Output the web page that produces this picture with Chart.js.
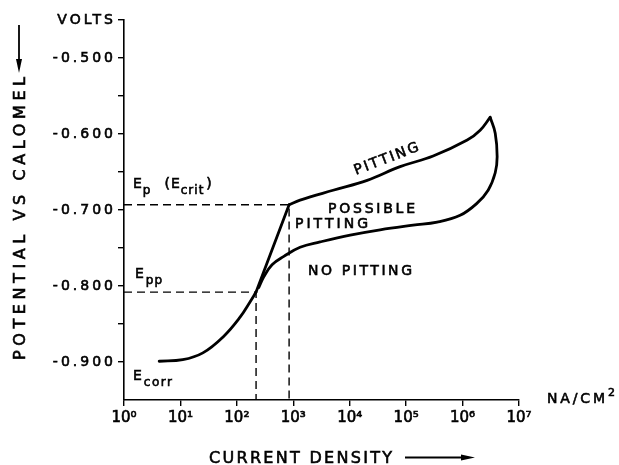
<!DOCTYPE html>
<html><head><meta charset="utf-8">
<script src="https://cdn.jsdelivr.net/npm/chart.js@4/dist/chart.umd.min.js"></script>
<style>html,body{margin:0;padding:0;background:#fff}#wrap{width:619px;height:465px}</style>
</head><body><div id="wrap"><canvas id="c" width="619" height="465"></canvas></div>
<script>
// ---- data (current density in nA/cm2, potential in volts vs calomel) ----
const forwardI = [4.2, 11, 25, 57, 114, 171, 219];
const forwardV = [-0.899, -0.897, -0.888, -0.867, -0.841, -0.821, -0.808];
const riseI = [219, 843];
const riseV = [-0.808, -0.693];
const pittingI = [843, 1320, 5080, 20400, 78300, 301000, 1210000, 2050000, 3080000];
const pittingV = [-0.693, -0.687, -0.674, -0.661, -0.643, -0.629, -0.608, -0.595, -0.578];
const reverseI = [3080000, 3790000, 4100000, 3790000, 2840000, 1810000, 906000, 355000, 133000, 34600, 10200, 2990, 1320, 680, 420, 300, 245];
const reverseV = [-0.578, -0.599, -0.630, -0.651, -0.674, -0.691, -0.707, -0.716, -0.720, -0.726, -0.733, -0.742, -0.749, -0.761, -0.772, -0.788, -0.802];
const epI = 843, epV = -0.693;     // E_p (E_crit)
const eppI = 219, eppV = -0.808;   // E_pp
const xTickValues = [1, 10, 100, 1000, 10000, 100000, 1000000, 10000000];
const xMin = 1, xMax = 10000000, yMin = -0.95, yMax = -0.45;

const pts = (xs, ys) => xs.map((x, i) => ({x, y: ys[i]}));
const SUP = ['\u2070','\u00B9','\u00B2','\u00B3','\u2074','\u2075','\u2076','\u2077'];
const FONT = '"DejaVu Sans", sans-serif';
const STROKE = 0.6;

const lineDs = (data, tension) => ({data, showLine: true, borderColor: '#000', borderWidth: 2.8,
  pointRadius: 0, tension, fill: false, borderCapStyle: 'round', borderJoinStyle: 'round'});
const dashDs = (data) => ({data, showLine: true, borderColor: '#000', borderWidth: 1.4,
  borderDash: [8, 5], pointRadius: 0, tension: 0, fill: false});

function put(ctx, text, x, y) {
  ctx.lineWidth = STROKE; ctx.strokeText(text, x, y); ctx.fillText(text, x, y);
}
function fitText(ctx, text, x, y, width) {
  ctx.letterSpacing = '0px';
  const w = ctx.measureText(text).width;
  const s = text.length > 1 ? (width - w) / (text.length - 1) : 0;
  ctx.letterSpacing = s + 'px';
  put(ctx, text, x, y);
  ctx.letterSpacing = '0px';
}
function subText(ctx, x, y, parts) {
  let cx = x;
  for (const p of parts) {
    ctx.font = (p.sub ? '12px ' : '14px ') + FONT;
    ctx.letterSpacing = (p.sp || 1) + 'px';
    put(ctx, p.t, cx, y + (p.sub ? 6 : 0));
    cx += ctx.measureText(p.t).width + (p.gap || 0);
  }
  ctx.letterSpacing = '0px';
}

const deco = {
  id: 'deco',
  afterLayout(chart) {
    const wrap = (scale, sp) => {
      if (scale._wrapped) return;
      const orig = scale.drawLabels;
      scale.drawLabels = function (area) {
        const c = this.ctx; c.save(); c.letterSpacing = sp; orig.call(this, area); c.restore();
      };
      scale._wrapped = true;
    };
    wrap(chart.scales.x, '0px');
    wrap(chart.scales.y, '3px');
  },
  afterDraw(chart) {
    const ctx = chart.ctx;
    ctx.save();
    ctx.letterSpacing = '0px';
    ctx.fillStyle = '#000'; ctx.strokeStyle = '#000';
    ctx.textBaseline = 'alphabetic'; ctx.textAlign = 'left';

    // y title (rotated) + arrow
    ctx.save();
    ctx.translate(25, 0);
    ctx.rotate(-Math.PI / 2);
    ctx.font = '16px ' + FONT;
    fitText(ctx, 'POTENTIAL VS CALOMEL', -360, 0, 283);
    ctx.restore();
    ctx.lineWidth = 1.8;
    ctx.beginPath(); ctx.moveTo(19, 25); ctx.lineTo(19, 62); ctx.stroke();
    ctx.beginPath(); ctx.moveTo(19, 73); ctx.lineTo(16, 59); ctx.lineTo(22, 59); ctx.closePath(); ctx.fill();

    // x title + arrow
    ctx.font = '16px ' + FONT;
    fitText(ctx, 'CURRENT DENSITY', 209, 463, 183);
    ctx.lineWidth = 1.8;
    ctx.beginPath(); ctx.moveTo(405, 457.5); ctx.lineTo(463, 457.5); ctx.stroke();
    ctx.beginPath(); ctx.moveTo(475, 457.5); ctx.lineTo(461, 454.5); ctx.lineTo(461, 460.5); ctx.closePath(); ctx.fill();

    // units
    ctx.font = '14px ' + FONT;
    fitText(ctx, 'NA/CM', 547, 403, 58);
    ctx.font = '11px ' + FONT;
    put(ctx, '2', 608, 396);

    // region labels
    ctx.font = '14px ' + FONT;
    fitText(ctx, 'POSSIBLE', 328, 213, 87);
    fitText(ctx, 'PITTING', 295, 228, 73);
    fitText(ctx, 'NO PITTING', 308, 275, 104);
    ctx.save();
    ctx.translate(386, 158);
    ctx.rotate(-21 * Math.PI / 180);
    fitText(ctx, 'PITTING', -34, 5, 68);
    ctx.restore();

    // potentials
    subText(ctx, 133, 188, [{t: 'E'}, {t: 'p', sub: true, gap: 13}, {t: '(E'}, {t: 'crit', sub: true, gap: 2}, {t: ')'}]);
    subText(ctx, 135, 278, [{t: 'E', gap: 1}, {t: 'pp', sub: true}]);
    subText(ctx, 133, 380, [{t: 'E', gap: 1}, {t: 'corr', sub: true, sp: 1.5}]);
    ctx.restore();
  }
};

new Chart(document.getElementById('c'), {
  type: 'scatter',
  data: {
    datasets: [
      dashDs([{x: xMin, y: epV}, {x: epI, y: epV}, {x: epI, y: yMin}]),
      dashDs([{x: xMin, y: eppV}, {x: eppI, y: eppV}, {x: eppI, y: yMin}]),
      lineDs(pts(forwardI, forwardV), 0.4),
      lineDs(pts(riseI, riseV), 0),
      lineDs(pts(pittingI, pittingV), 0.4),
      lineDs(pts(reverseI, reverseV), 0.4)
    ]
  },
  options: {
    responsive: false, animation: false, devicePixelRatio: 1,
    layout: {padding: {top: 20, right: 100, left: 0, bottom: 0}},
    plugins: {legend: {display: false}, tooltip: {enabled: false}, title: {display: false}},
    scales: {
      x: {
        type: 'logarithmic', min: xMin, max: xMax,
        afterBuildTicks: s => { s.ticks = xTickValues.map(v => ({value: v})); },
        afterFit: s => { s.height = 65; },
        grid: {display: true, drawOnChartArea: false, drawTicks: true, tickLength: 6, color: '#000', lineWidth: 1.4},
        border: {display: true, color: '#000', width: 1.6},
        ticks: {autoSkip: false, maxRotation: 0, padding: 3, color: '#000', font: {family: 'DejaVu Sans', size: 15},
          textStrokeColor: '#000', textStrokeWidth: STROKE,
          callback: v => '10' + SUP[Math.round(Math.log10(v))]}
      },
      y: {
        type: 'linear', min: yMin, max: yMax,
        afterFit: s => { s.width = 124; },
        grid: {display: true, drawOnChartArea: false, drawTicks: true, tickLength: 6, lineWidth: 1.4,
          color: c => (c.tick && Math.round(c.tick.value * 100) === -95) ? 'rgba(0,0,0,0)' : '#000'},
        border: {display: true, color: '#000', width: 1.6},
        ticks: {stepSize: 0.05, padding: 2, color: '#000', font: {family: 'DejaVu Sans', size: 14},
          textStrokeColor: '#000', textStrokeWidth: STROKE,
          callback: v => {
            const h = Math.round(v * 100);
            if (h === -45) return 'VOLTS';
            if (h % 10 === 0 && h > -95) return (h / 100).toFixed(3);
            return '';
          }}
      }
    }
  },
  plugins: [deco]
});
</script>
</body></html>
